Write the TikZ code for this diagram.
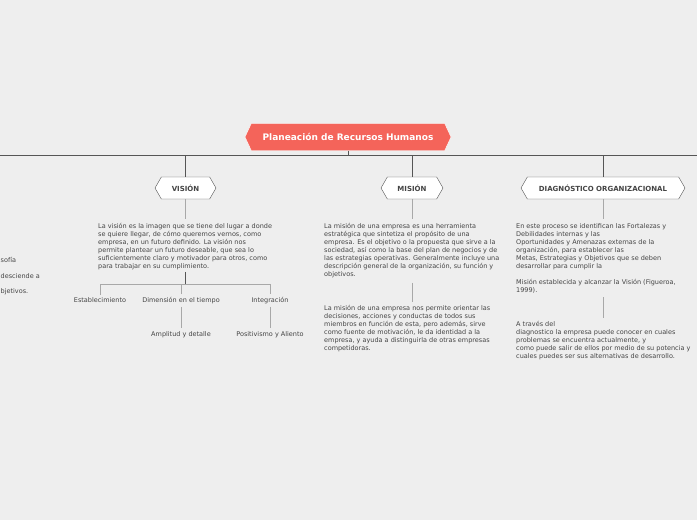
\documentclass[tikz,border=0pt]{standalone}
\usepackage{fontspec}
\setmainfont{DejaVu Sans}
\usepackage{xcolor}
\usetikzlibrary{positioning,shapes.symbols}
\definecolor{bg}{HTML}{EEEEEE}
\definecolor{rootred}{HTML}{F4645A}
\definecolor{txt}{HTML}{444444}
\definecolor{darkline}{HTML}{555555}
\definecolor{lightline}{HTML}{A8A8A8}

\begin{document}
\begin{tikzpicture}[x=1pt, y=-1pt, every node/.style={font=\fontsize{6.5}{8}\selectfont, text=txt}]
  % Styles
  \tikzstyle{root}=[signal, signal to=west and east, signal pointer angle=130, draw=white, fill=rootred, text=white, font=\fontsize{9}{10}\selectfont\bfseries, minimum width=206pt, minimum height=27pt, inner sep=0pt]
  \tikzstyle{topic}=[signal, signal to=west and east, signal pointer angle=120, draw=darkline, fill=white, font=\fontsize{7}{8}\selectfont\bfseries, minimum height=22pt, inner sep=0pt]
  \tikzstyle{para}=[align=left, anchor=north west, inner sep=0pt]
  \tikzstyle{leaf}=[inner sep=3pt]
  \tikzstyle{trunk}=[draw=darkline, line width=0.9pt]
  \tikzstyle{twig}=[draw=lightline, line width=0.8pt]

  % Background
  \fill[bg] (0,0) rectangle (697,520);
  \clip (0,0) rectangle (697,520);

  % Main topic
  \node[root] (plan) at (348,137) {Planeación de Recursos Humanos};
  \coordinate (lend) at (0,155);
  \coordinate (rend) at (697,155);

  % Subtopics
  \node[topic, minimum width=61pt] (vision) at (185.5,188) {VISIÓN};
  \node[topic, minimum width=62pt] (mision) at (412,188) {MISIÓN};
  \node[topic, minimum width=164pt] (diag) at (603,188) {DIAGNÓSTICO ORGANIZACIONAL};

  % Descriptions
  \node[para] (visiontext) at (98,223) {La visión es la imagen que se tiene del lugar a donde\\
    se quiere llegar, de cómo queremos vernos, como\\
    empresa, en un futuro definido. La visión nos\\
    permite plantear un futuro deseable, que sea lo\\
    suficientemente claro y motivador para otros, como\\
    para trabajar en su cumplimiento.};
  \node[para] (misiontext) at (324,223) {La misión de una empresa es una herramienta\\
    estratégica que sintetiza el propósito de una\\
    empresa. Es el objetivo o la propuesta que sirve a la\\
    sociedad, así como la base del plan de negocios y de\\
    las estrategias operativas. Generalmente incluye una\\
    descripción general de la organización, su función y\\
    objetivos.};
  \node[para] (misiontextb) at (324,305) {La misión de una empresa nos permite orientar las\\
    decisiones, acciones y conductas de todos sus\\
    miembros en función de esta, pero además, sirve\\
    como fuente de motivación, le da identidad a la\\
    empresa, y ayuda a distinguirla de otras empresas\\
    competidoras.};
  \node[para] (diagtext) at (516,223) {En este proceso se identifican las Fortalezas y\\
    Debilidades internas y las\\
    Oportunidades y Amenazas externas de la\\
    organización, para establecer las\\
    Metas, Estrategias y Objetivos que se deben\\
    desarrollar para cumplir la\\[8pt]
    Misión establecida y alcanzar la Visión (Figueroa,\\
    1999).};
  \node[para] (diagtextb) at (516,321) {A través del\\
    diagnostico la empresa puede conocer en cuales\\
    problemas se encuentra actualmente, y\\
    como puede salir de ellos por medio de su potencia y\\
    cuales puedes ser sus alternativas de desarrollo.};

  % Vision details
  \coordinate (vbrace) at (185.5,284);
  \node[leaf] (estab) at (100,300.5) {Establecimiento};
  \node[leaf] (dim) at (181,300.5) {Dimensión en el tiempo};
  \node[leaf] (integ) at (270,300.5) {Integración};
  \node[leaf, below=21pt of dim] (ampl) {Amplitud y detalle};
  \node[leaf, below=21pt of integ] (posit) {Positivismo y Aliento};

  % Cut off texts on the left
  \node[inner sep=0pt, anchor=west] (left1) at (0.5,260) {sofía};
  \node[inner sep=0pt, anchor=west] (left2) at (0.5,276) {desciende a};
  \node[inner sep=0pt, anchor=west] (left3) at (0.5,292) {bjetivos.};

  % Connectors
  \draw[trunk] (lend) -- (rend);
  \draw[trunk] (plan.south) -- (plan.south |- lend);
  \draw[trunk] (vision.north) -- (vision.north |- lend);
  \draw[trunk] (mision.north) -- (mision.north |- lend);
  \draw[trunk] (diag.north) -- (diag.north |- lend);
  \draw[twig, shorten >=4pt] (vision.south) -- (vision.south |- visiontext.north);
  \draw[twig, shorten >=4pt] (mision.south) -- (mision.south |- misiontext.north);
  \draw[twig, shorten >=4pt] (diag.south) -- (diag.south |- diagtext.north);
  \draw[twig, shorten <=5pt, shorten >=3pt] (mision.south |- misiontext.south) -- (mision.south |- misiontextb.north);
  \draw[twig, shorten <=4pt, shorten >=3pt] (diag.south |- diagtext.south) -- (diag.south |- diagtextb.north);
  \draw[trunk, shorten <=2pt] (vbrace |- visiontext.south) -- (vbrace);
  \draw[twig] (estab.north) |- (integ.north |- vbrace) -- (integ.north);
  \draw[twig] (dim.north) -- (dim.north |- vbrace);
  \draw[twig] (dim.south) -- (ampl.north);
  \draw[twig] (integ.south) -- (posit.north);
\end{tikzpicture}
\end{document}
